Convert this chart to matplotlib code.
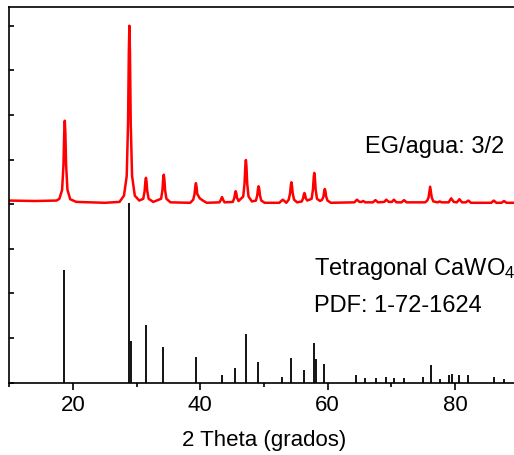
import matplotlib.pyplot as plt

plt.rcParams['font.family'] = ['Liberation Sans', 'DejaVu Sans']
plt.rcParams['mathtext.fontset'] = 'custom'
plt.rcParams['mathtext.rm'] = 'Liberation Sans'
plt.rcParams['mathtext.default'] = 'regular'

x_exp = [10.0, 14.0, 17.4, 17.85, 18.28, 18.49, 18.61, 18.7, 18.79, 18.91, 19.12, 19.55,
         20.5, 23.0, 25.0, 27.3, 28.0, 28.43, 28.64, 28.76, 28.85, 28.94, 29.06, 29.27, 29.7,
         30.4, 31.03, 31.24, 31.36, 31.45, 31.54, 31.66, 31.87, 32.6,
         33.83, 34.04, 34.16, 34.25, 34.34, 34.46, 34.67, 35.3, 38.4,
         38.88, 39.09, 39.21, 39.3, 39.39, 39.51, 39.9, 40.4, 41.0,
         43.0, 43.2, 43.4, 43.6, 43.8,
         45.1, 45.34, 45.46, 45.55, 45.64, 45.76, 46.0,
         46.73, 46.94, 47.06, 47.15, 47.24, 47.36, 47.57, 48.1,
         48.73, 48.94, 49.06, 49.15, 49.24, 49.36, 49.57, 50.1,
         52.4, 52.7, 52.95, 53.2, 53.5,
         53.88, 54.09, 54.21, 54.3, 54.39, 54.51, 54.72, 55.2,
         55.93, 56.14, 56.26, 56.35, 56.44, 56.56, 56.8,
         57.48, 57.69, 57.81, 57.9, 57.99, 58.11, 58.32,
         58.8, 59.13, 59.34, 59.46, 59.55, 59.64, 59.76, 59.97, 60.5,
         64.2, 64.6, 65.0, 65.3, 65.6, 65.9,
         67.1, 67.5, 67.9, 68.9, 69.2, 69.6, 70.1, 70.4, 70.8,
         71.6, 72.0, 72.4,
         75.3, 75.65, 75.85, 76.0, 76.1, 76.2, 76.35, 76.6, 77.3, 77.6, 77.9,
         79.0, 79.4, 79.8, 80.3, 80.7, 81.1, 81.7, 82.1, 82.5,
         85.7, 86.1, 86.5, 87.3, 87.7, 88.1, 90.0]
y_exp = [4.08, 4.07, 4.08, 4.12, 4.32, 4.87, 5.60, 5.87, 5.60, 4.87, 4.32, 4.11,
         4.05, 4.04, 4.03, 4.05, 4.19, 4.63, 5.82, 7.40, 8.00, 7.40, 5.82, 4.63, 4.19,
         4.08, 4.12, 4.29, 4.51, 4.59, 4.51, 4.29, 4.12, 4.05,
         4.12, 4.31, 4.57, 4.66, 4.57, 4.31, 4.12, 4.04, 4.03,
         4.10, 4.23, 4.40, 4.47, 4.40, 4.23, 4.13, 4.08, 4.03,
         4.04, 4.09, 4.16, 4.09, 4.04,
         4.05, 4.14, 4.25, 4.29, 4.25, 4.14, 4.07,
         4.17, 4.46, 4.85, 4.99, 4.85, 4.46, 4.17, 4.06,
         4.08, 4.20, 4.35, 4.40, 4.35, 4.20, 4.08, 4.03,
         4.03, 4.07, 4.10, 4.07, 4.03,
         4.10, 4.24, 4.42, 4.49, 4.42, 4.24, 4.10, 4.04,
         4.06, 4.13, 4.22, 4.25, 4.22, 4.13, 4.08,
         4.12, 4.33, 4.60, 4.70, 4.60, 4.33, 4.12,
         4.07, 4.10, 4.17, 4.30, 4.34, 4.30, 4.17, 4.08, 4.03,
         4.04, 4.10, 4.05, 4.05, 4.07, 4.04,
         4.04, 4.09, 4.04, 4.05, 4.10, 4.05, 4.05, 4.10, 4.04,
         4.04, 4.09, 4.04,
         4.04, 4.08, 4.15, 4.30, 4.39, 4.30, 4.15, 4.06, 4.04, 4.06, 4.04,
         4.04, 4.13, 4.05, 4.04, 4.11, 4.04, 4.04, 4.08, 4.03,
         4.03, 4.08, 4.03, 4.03, 4.07, 4.03, 4.03]

# Patron de referencia PDF 1-72-1624 (posicion, altura)
x_pdf = [18.65, 28.74, 29.05, 31.46, 34.18, 39.25, 43.35, 45.44, 47.12, 49.1,
         52.9, 54.25, 56.25, 57.83, 58.1, 59.45, 64.43, 65.8, 67.6, 69.1,
         70.45, 72.0, 75.0, 76.2, 77.6, 79.1, 79.5, 80.7, 82.0, 86.1, 87.7]
h_pdf = [2.52, 4.02, 0.94, 1.28, 0.79, 0.58, 0.16, 0.32, 1.09, 0.47,
         0.12, 0.56, 0.27, 0.88, 0.53, 0.41, 0.17, 0.10, 0.10, 0.13,
         0.11, 0.10, 0.13, 0.39, 0.09, 0.16, 0.19, 0.17, 0.17, 0.13, 0.09]

fig = plt.figure(figsize=(5.14, 4.55), dpi=100)
ax = fig.add_axes([0.0183, 0.1593, 0.9907, 0.8253])

ax.plot(x_exp, y_exp, color='red', lw=1.8)
ax.vlines(x_pdf, 0, h_pdf, color='black', lw=1.3)

ax.set_xlim(10, 90)
ax.set_ylim(0, 8.42)
ax.set_xticks([20, 40, 60, 80])
ax.set_xticks([10, 30, 50, 70, 90], minor=True)
ax.set_yticks(range(0, 9))
ax.set_yticklabels([])
ax.tick_params(axis='x', which='major', direction='out', length=5, width=1.2, labelsize=16, pad=4)
ax.tick_params(axis='x', which='minor', direction='out', length=3, width=1.2)
ax.tick_params(axis='y', which='major', direction='in', length=3.5, width=1.2)
for s in ax.spines.values():
    s.set_linewidth(1.2)

ax.set_xlabel('2 Theta (grados)', fontsize=16, labelpad=10)

ax.text(65.87, 5.14, 'EG/agua: 3/2', fontsize=17, va='baseline')
ax.text(57.86, 2.41, 'Tetragonal CaWO$_4$', fontsize=17, va='baseline')
ax.text(57.86, 1.58, 'PDF: 1-72-1624', fontsize=17, va='baseline')

fig.savefig('out.png', dpi=100)
